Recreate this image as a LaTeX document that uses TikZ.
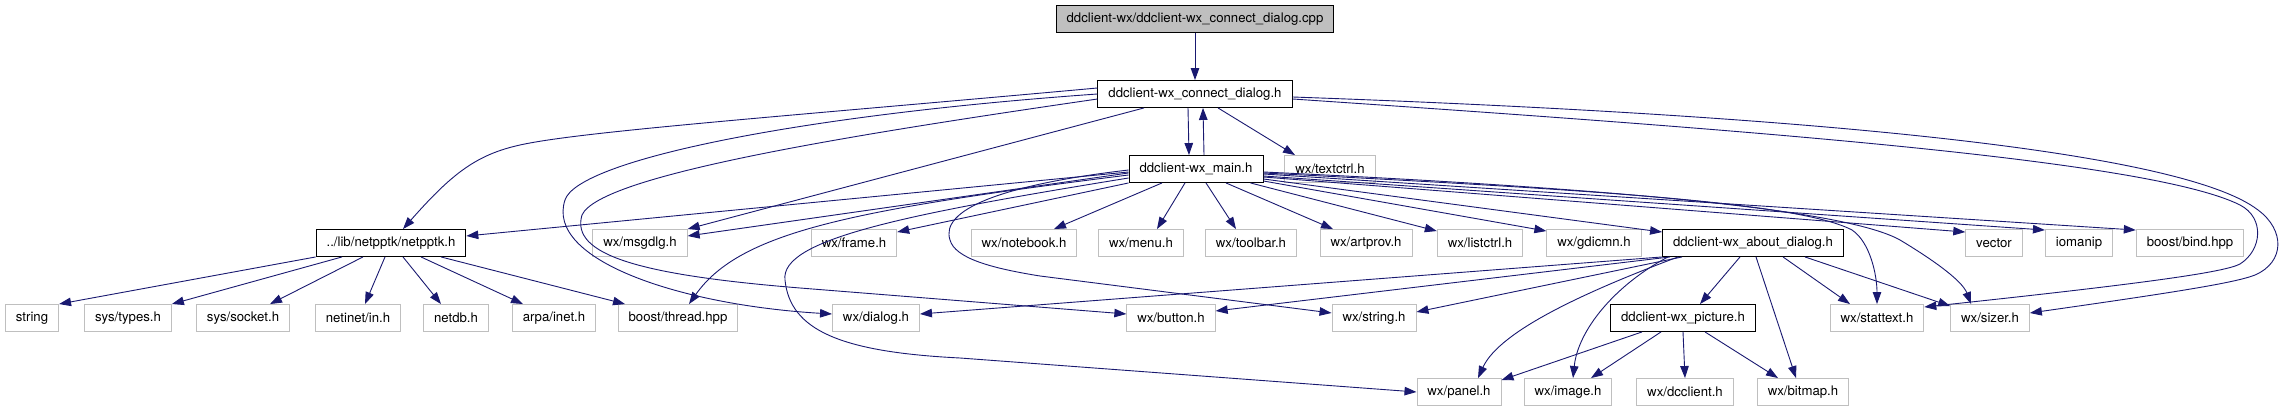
\documentclass[tikz,border=0pt]{standalone}
\usepackage{fontspec}
\setmainfont{TeX Gyre Heros}
\usetikzlibrary{arrows.meta}
\definecolor{edgeblue}{RGB}{25,25,112}
\definecolor{boxgrey}{RGB}{191,191,191}

\begin{document}
\begin{tikzpicture}[
            x=1pt, y=-1pt,
            hfile/.style={draw=boxgrey, line width=0.9pt, fill=white, rectangle, minimum height=27pt, inner xsep=10.5pt, inner ysep=0pt, font=\fontsize{13.2pt}{15pt}\selectfont},
            docfile/.style={hfile, draw=black},
            srcfile/.style={docfile, fill=boxgrey},
            inc/.style={draw=edgeblue, line width=0.9pt, -{Triangle[length=12pt,width=8.5pt]}}
        ]
            \useasboundingbox (0,0) rectangle (2284,411);

            \node[srcfile] (cpp) at (1195,19) {ddclient-wx/ddclient-wx\_connect\_dialog.cpp};
            \node[docfile] (conn) at (1195,94) {ddclient-wx\_connect\_dialog.h};
            \node[docfile] (main) at (1196,169) {ddclient-wx\_main.h};
            \node[hfile] (textctrl) at (1330,169) {wx/textctrl.h};

            \node[docfile] (netpptk) at (391,243) {../lib/netpptk/netpptk.h};
            \node[hfile] (msgdlg) at (640,243) {wx/msgdlg.h};
            \node[hfile] (frame) at (854,243) {wx/frame.h};
            \node[hfile] (notebook) at (1024,243) {wx/notebook.h};
            \node[hfile] (menu) at (1141,243) {wx/menu.h};
            \node[hfile] (toolbar) at (1251,243) {wx/toolbar.h};
            \node[hfile] (artprov) at (1366,243) {wx/artprov.h};
            \node[hfile] (listctrl) at (1480,243) {wx/listctrl.h};
            \node[hfile] (gdicmn) at (1594,243) {wx/gdicmn.h};
            \node[docfile] (about) at (1753,243) {ddclient-wx\_about\_dialog.h};
            \node[hfile] (vector) at (1994,243) {vector};
            \node[hfile] (iomanip) at (2079,243) {iomanip};
            \node[hfile] (bind) at (2190,243) {boost/bind.hpp};

            \node[hfile] (string) at (32,318) {string};
            \node[hfile] (types) at (128,318) {sys/types.h};
            \node[hfile] (socket) at (243,318) {sys/socket.h};
            \node[hfile] (netinet) at (358,318) {netinet/in.h};
            \node[hfile] (netdb) at (456,318) {netdb.h};
            \node[hfile] (arpa) at (554,318) {arpa/inet.h};
            \node[hfile] (thread) at (678,318) {boost/thread.hpp};
            \node[hfile] (dialog) at (876,318) {wx/dialog.h};
            \node[hfile] (button) at (1171,318) {wx/button.h};
            \node[hfile] (wxstring) at (1374,318) {wx/string.h};
            \node[docfile] (picture) at (1683,318) {ddclient-wx\_picture.h};
            \node[hfile] (stattext) at (1877,318) {wx/stattext.h};
            \node[hfile] (sizer) at (1990,318) {wx/sizer.h};

            \node[hfile] (panel) at (1459,392) {wx/panel.h};
            \node[hfile] (image) at (1568,392) {wx/image.h};
            \node[hfile] (dcclient) at (1685,392) {wx/dcclient.h};
            \node[hfile] (bitmap) at (1803,392) {wx/bitmap.h};

            % connect_dialog.cpp / connect_dialog.h
            \draw[inc] (cpp) -- (conn);
            \draw[inc] ([xshift=-7pt]conn.south) -- ([xshift=-7pt]main.north);
            \draw[inc] ([xshift=23pt]conn.south) -- ([xshift=-35pt]textctrl.north);
            \draw[inc] ([xshift=-51pt]conn.south) -- (msgdlg.north east);
            \draw[inc] ([yshift=6pt]conn.west) .. controls (800,115) and (600,130) .. (530,143) .. controls (480,152) and (455,170) .. ([xshift=12pt]netpptk.north);
            \draw[inc] (conn.west) .. controls (800,115) and (578,160) .. (565,200) .. controls (545,260) and (680,305) .. ([yshift=4pt]dialog.west);
            \draw[inc] ([yshift=-5pt]conn.west) .. controls (850,135) and (600,175) .. (582,215) .. controls (570,255) and (640,275) .. (800,288) -- ([yshift=4pt]button.west);
            \draw[inc] ([yshift=-3pt]conn.east) .. controls (1800,115) and (2180,150) .. (2258,210) .. controls (2285,230) and (2285,262) .. (2255,275) .. controls (2235,283) and (2170,293) .. ([yshift=5pt]sizer.east);
            \draw[inc] ([yshift=-5pt]conn.east) .. controls (1750,130) and (2150,160) .. (2240,205) .. controls (2265,218) and (2262,250) .. (2240,264) .. controls (2225,272) and (2150,283) .. ([yshift=11pt]stattext.east);

            % main.h
            \draw[inc] ([xshift=8pt]main.north) -- ([xshift=8pt]conn.south);
            \draw[inc] ([yshift=-3pt]main.west) -- ([yshift=7pt]netpptk.east);
            \draw[inc] ([yshift=-4pt]main.west) -- ([yshift=7pt]msgdlg.east);
            \draw[inc] ([yshift=-6pt]main.west) .. controls (850,210) and (740,232) .. ([xshift=11pt]thread.north);
            \draw[inc] ([yshift=-9pt]main.west) .. controls (900,215) and (780,240) .. (785,280) .. controls (790,330) and (840,352) .. (960,358) -- (panel.west);
            \draw[inc] ([yshift=-1pt]main.west) .. controls (1000,185) and (940,210) .. (950,240) .. controls (955,258) and (990,268) .. (1040,276) -- ([yshift=5pt]wxstring.west);
            \draw[inc] (main.south west) -- ([yshift=-3pt]frame.north east);
            \draw[inc] ([xshift=-34pt]main.south) -- ([xshift=30pt]notebook.north);
            \draw[inc] ([xshift=-11pt]main.south) -- ([xshift=16pt]menu.north);
            \draw[inc] ([xshift=10pt]main.south) -- ([xshift=-15pt]toolbar.north);
            \draw[inc] ([xshift=30pt]main.south) -- ([xshift=-33pt]artprov.north);
            \draw[inc] ([xshift=-13pt]main.south east) -- ([yshift=-2pt]listctrl.north west);
            \draw[inc] ([yshift=-12pt]main.east) -- ([yshift=-2pt]gdicmn.north west);
            \draw[inc] ([yshift=-10pt]main.east) -- ([yshift=-3pt]about.north west);
            \draw[inc] ([yshift=-8pt]main.east) -- ([yshift=-3pt]vector.north west);
            \draw[inc] ([yshift=-7pt]main.east) -- ([yshift=-1pt]iomanip.north west);
            \draw[inc] ([yshift=-5pt]main.east) -- ([yshift=-1pt]bind.north west);
            \draw[inc] ([yshift=-4pt]main.east) .. controls (1600,190) and (1800,203) .. (1852,230) .. controls (1870,242) and (1877,275) .. (stattext.north);
            \draw[inc] ([yshift=-3pt]main.east) .. controls (1650,190) and (1850,212) .. (1900,240) .. controls (1930,258) and (1962,280) .. ([xshift=-19pt]sizer.north);

            % about_dialog.h
            \draw[inc] (about.south west) -- ([yshift=4pt]dialog.east);
            \draw[inc] ([xshift=8pt]about.south west) -- ([yshift=7pt]button.east);
            \draw[inc] ([xshift=20pt]about.south west) -- ([yshift=6pt]wxstring.east);
            \draw[inc] ([xshift=-75pt]about.south) .. controls (1590,290) and (1500,330) .. ([xshift=19pt]panel.north);
            \draw[inc] ([xshift=-85pt]about.south) .. controls (1615,285) and (1578,330) .. ([xshift=5pt]image.north);
            \draw[inc] ([xshift=-13pt]about.south) -- ([xshift=17pt]picture.north);
            \draw[inc] ([xshift=3pt]about.south) -- ([xshift=-7pt]bitmap.north);
            \draw[inc] ([xshift=30pt]about.south) -- ([xshift=-27pt]stattext.north);
            \draw[inc] ([xshift=52pt]about.south) -- ([yshift=-2pt]sizer.north west);

            % picture.h
            \draw[inc] ([xshift=-41pt]picture.south) -- ([yshift=-2pt]panel.north east);
            \draw[inc] ([xshift=-22pt]picture.south) -- ([xshift=23pt]image.north);
            \draw[inc] (picture.south) -- (dcclient.north);
            \draw[inc] ([xshift=22pt]picture.south) -- ([xshift=-25pt]bitmap.north);

            % netpptk.h
            \draw[inc] (netpptk.south west) -- (string.north east);
            \draw[inc] ([xshift=-49pt]netpptk.south) -- (types.north east);
            \draw[inc] ([xshift=-28pt]netpptk.south) -- ([xshift=27pt]socket.north);
            \draw[inc] ([xshift=-6pt]netpptk.south) -- ([xshift=7pt]netinet.north);
            \draw[inc] ([xshift=12pt]netpptk.south) -- ([xshift=-15pt]netdb.north);
            \draw[inc] ([xshift=30pt]netpptk.south) -- ([xshift=-31pt]arpa.north);
            \draw[inc] ([xshift=50pt]netpptk.south) -- ([xshift=-53pt]thread.north);
        \end{tikzpicture}
\end{document}
